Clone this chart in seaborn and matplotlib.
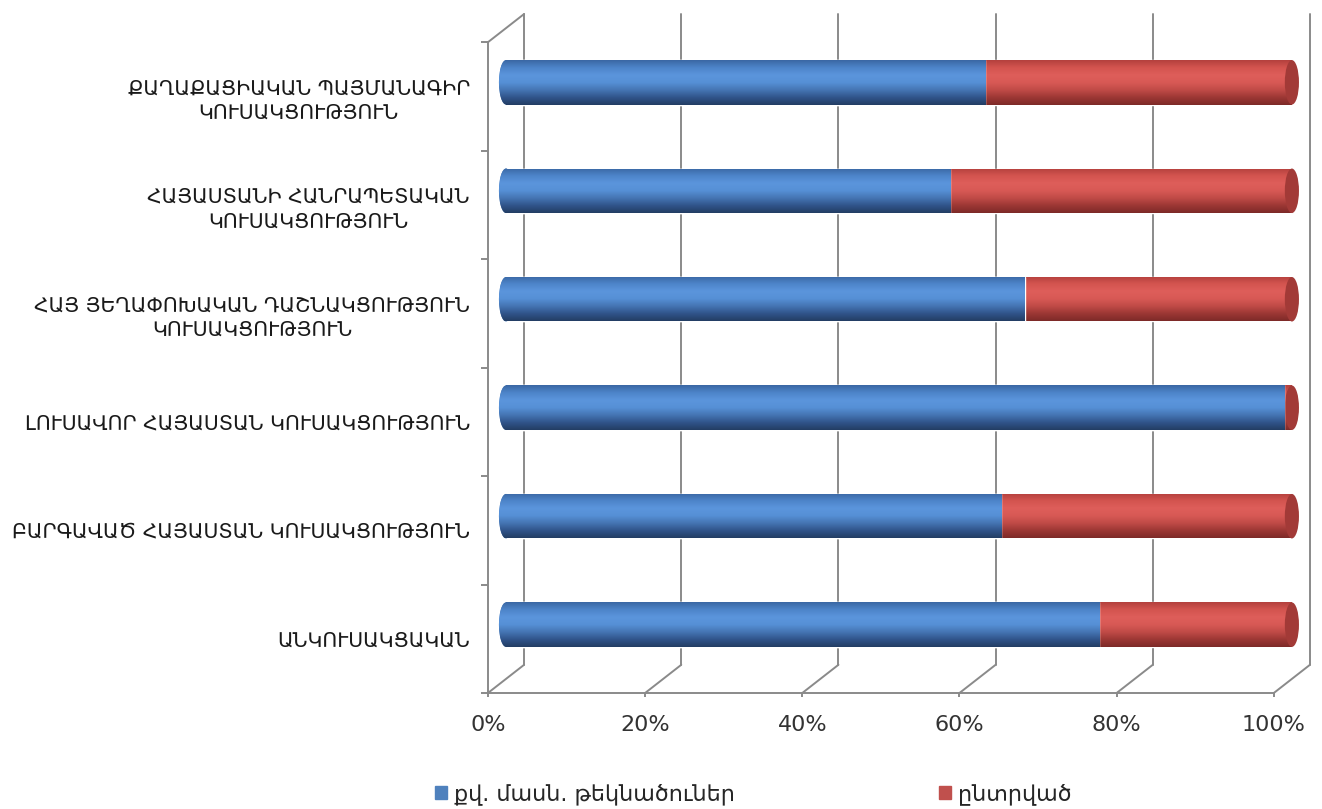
import numpy as np
import matplotlib.pyplot as plt
import seaborn as sns
from matplotlib.colors import LinearSegmentedColormap
from matplotlib.patches import Ellipse, Patch

# data (share of each party, %)
categories = [
    "ՔԱՂԱՔԱՑԻԱԿԱՆ ՊԱՅՄԱՆԱԳԻՐ ԿՈՒՍԱԿՑՈՒԹՅՈՒՆ",
    "ՀԱՅԱՍՏԱՆԻ ՀԱՆՐԱՊԵՏԱԿԱՆ ԿՈՒՍԱԿՑՈՒԹՅՈՒՆ",
    "ՀԱՅ ՅԵՂԱՓՈԽԱԿԱՆ ԴԱՇՆԱԿՑՈՒԹՅՈՒՆ ԿՈՒՍԱԿՑՈՒԹՅՈՒՆ",
    "ԼՈՒՍԱՎՈՐ ՀԱՅԱՍՏԱՆ ԿՈՒՍԱԿՑՈՒԹՅՈՒՆ",
    "ԲԱՐԳԱՎԱԾ ՀԱՅԱՍՏԱՆ ԿՈՒՍԱԿՑՈՒԹՅՈՒՆ",
    "ԱՆԿՈՒՍԱԿՑԱԿԱՆ",
]
cat_labels = [
    "ՔԱՂԱՔԱՑԻԱԿԱՆ ՊԱՅՄԱՆԱԳԻՐ\nԿՈՒՍԱԿՑՈՒԹՅՈՒՆ",
    "ՀԱՅԱՍՏԱՆԻ ՀԱՆՐԱՊԵՏԱԿԱՆ\nԿՈՒՍԱԿՑՈՒԹՅՈՒՆ",
    "ՀԱՅ ՅԵՂԱՓՈԽԱԿԱՆ ԴԱՇՆԱԿՑՈՒԹՅՈՒՆ\nԿՈՒՍԱԿՑՈՒԹՅՈՒՆ",
    "ԼՈՒՍԱՎՈՐ ՀԱՅԱՍՏԱՆ ԿՈՒՍԱԿՑՈՒԹՅՈՒՆ",
    "ԲԱՐԳԱՎԱԾ ՀԱՅԱՍՏԱՆ ԿՈՒՍԱԿՑՈՒԹՅՈՒՆ",
    "ԱՆԿՈՒՍԱԿՑԱԿԱՆ",
]
candidates = [61, 56.5, 66, 99, 63, 75.5]
elected = [39, 43.5, 34, 1, 37, 24.5]
x_ticks = [0, 20, 40, 60, 80, 100]
x_tick_labels = ["0%", "20%", "40%", "60%", "80%", "100%"]
legend_labels = ["քվ. մասն. թեկնածուներ", "ընտրված"]

totals = [c + e for c, e in zip(candidates, elected)]

sns.set_style("white")
plt.rcParams["font.family"] = ["DejaVu Sans"]

DX, DY = 2.3, 0.13      # fake 3d depth offset (data units)
CAP = 1.8               # width of the cylinder end caps
grid_col = "#8a8a8a"
blue, red = "#4f81bd", "#c0504d"

blue_cmap = LinearSegmentedColormap.from_list(
    "blue_cyl", ["#3a67a3", "#4d84c9", "#5b95dc", "#5690d6", "#4575b3", "#30548a", "#233d63"])
red_cmap = LinearSegmentedColormap.from_list(
    "red_cyl", ["#b3403d", "#d3544f", "#de5e5a", "#d85955", "#c04b47", "#9c3734", "#7d2a28"])
grad = np.linspace(0, 1, 256).reshape(-1, 1)

fig = plt.figure(figsize=(13.22, 8.09), dpi=100)
ax = fig.add_axes([0.3691, 0.1434, 0.6218, 0.8393])

sns.barplot(x=totals, y=categories, color=red, saturation=1, orient="h",
            width=0.41, errorbar=None, ax=ax, zorder=3)
red_bars = list(ax.patches)
sns.barplot(x=candidates, y=categories, color=blue, saturation=1, orient="h",
            width=0.41, errorbar=None, ax=ax, zorder=5)
blue_bars = list(ax.patches)[len(red_bars):]


def shade(patch, cmap, z):
    x0, y0 = patch.get_x(), patch.get_y()
    w, h = patch.get_width(), patch.get_height()
    im = ax.imshow(grad, cmap=cmap, aspect="auto", origin="upper",
                   extent=[x0 - CAP, x0 + w + CAP, y0 + h, y0],
                   interpolation="bilinear", zorder=z)
    im.set_clip_path(patch)


for p in red_bars:
    shade(p, red_cmap, 3.1)
    yc = p.get_y() + p.get_height() / 2
    cap = Ellipse((p.get_x() + p.get_width(), yc), CAP, p.get_height(),
                  facecolor="#a23a37", edgecolor="none", zorder=4)
    ax.add_patch(cap)

for p in blue_bars:
    shade(p, blue_cmap, 5.1)
    yc = p.get_y() + p.get_height() / 2
    left = Ellipse((p.get_x(), yc), CAP, p.get_height(),
                   facecolor=blue, edgecolor="none", zorder=5)
    ax.add_patch(left)
    shade_im = ax.imshow(grad, cmap=blue_cmap, aspect="auto", origin="upper",
                         extent=[p.get_x() - CAP, p.get_x() + CAP,
                                 p.get_y() + p.get_height(), p.get_y()],
                         interpolation="bilinear", zorder=5.1)
    shade_im.set_clip_path(left)

n = len(categories)
ax.set_xlim(-DX, 100 + DX)
ax.set_ylim(n - 0.5 + DY, -0.5 - DY)

# back wall grid + floor diagonals
for t in x_ticks:
    ax.plot([t + DX, t + DX], [n - 0.5 - DY, -0.5 - DY], color=grid_col,
            lw=1.4, zorder=1, clip_on=False)
    ax.plot([t - DX, t + DX], [n - 0.5 + DY, n - 0.5 - DY], color=grid_col,
            lw=1.4, zorder=1, clip_on=False)
ax.plot([-DX, DX], [-0.5 + DY, -0.5 - DY], color=grid_col, lw=1.4,
        zorder=1, clip_on=False)

ax.set_xticks([t - DX for t in x_ticks], x_tick_labels)
ax.set_yticks([i + DY for i in range(n)], cat_labels)
ax.set_yticks([k - 0.5 + DY for k in range(n + 1)], minor=True)
ax.set_xlabel("")
ax.set_ylabel("")

ax.tick_params(axis="y", which="major", length=0, pad=13, labelsize=14.7,
               labelcolor="#1a1a1a")
ax.tick_params(axis="y", which="minor", length=5, width=1.4, color=grid_col,
               left=True)
ax.tick_params(axis="x", which="major", length=3, width=1.4, color=grid_col,
               pad=13, labelsize=16, labelcolor="#333333", bottom=True)
for lab in ax.get_yticklabels():
    lab.set_multialignment("center")
    lab.set_linespacing(1.38)

for side in ["top", "right"]:
    ax.spines[side].set_visible(False)
ax.spines["left"].set_bounds(-0.5 + DY, n - 0.5 + DY)
ax.spines["bottom"].set_bounds(-DX, 100 - DX)
for side in ["left", "bottom"]:
    ax.spines[side].set_color(grid_col)
    ax.spines[side].set_linewidth(1.4)

handles = [Patch(color=blue), Patch(color=red)]
fig.legend(handles, legend_labels, loc="center", bbox_to_anchor=(0.5696, 0.018),
           ncol=2, frameon=False, fontsize=16, handlelength=0.55,
           handleheight=0.55, handletextpad=0.3, columnspacing=9.2)

fig.savefig("out.png", dpi=100)
